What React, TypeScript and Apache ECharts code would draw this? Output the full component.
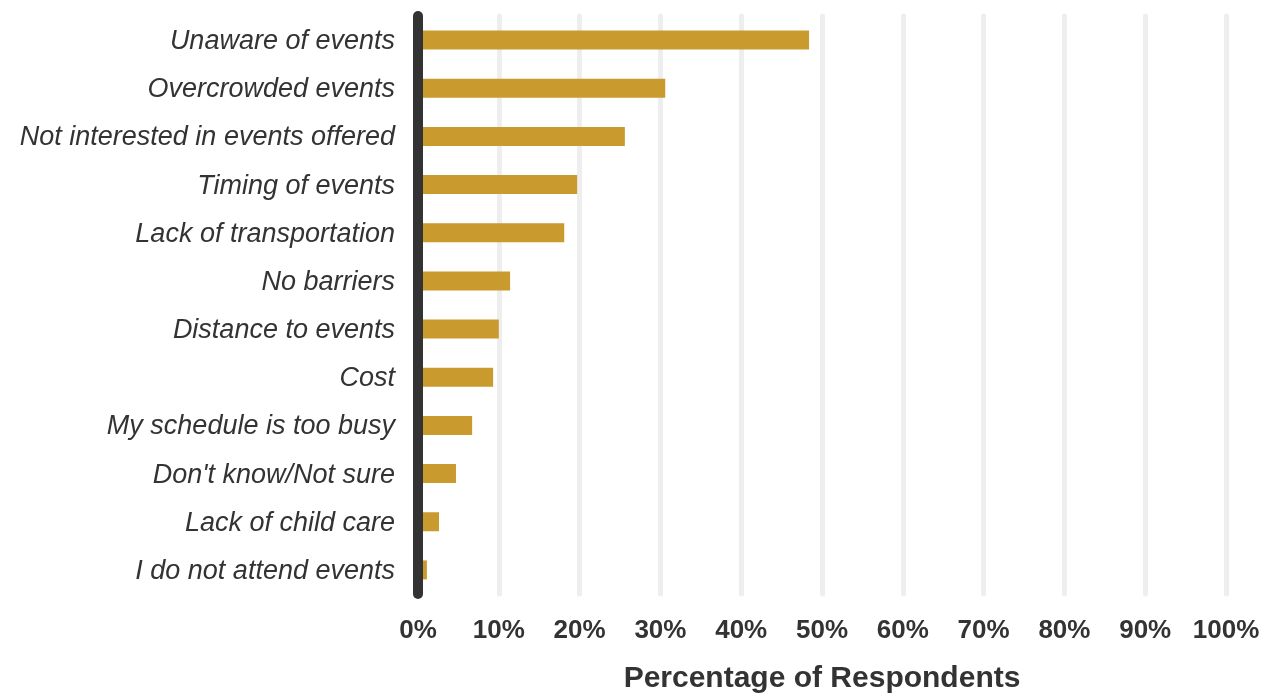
import React, { useEffect, useRef } from "react";
import * as echarts from "echarts";

const categories = [
  "Unaware of events",
  "Overcrowded events",
  "Not interested in events offered",
  "Timing of events",
  "Lack of transportation",
  "No barriers",
  "Distance to events",
  "Cost",
  "My schedule is too busy",
  "Don't know/Not sure",
  "Lack of child care",
  "I do not attend events",
];
const values = [48.4, 30.6, 25.6, 19.7, 18.1, 11.4, 10.0, 9.3, 6.7, 4.7, 2.6, 1.1];
const xTicks = [0, 10, 20, 30, 40, 50, 60, 70, 80, 90, 100];
const axisTitle = "Percentage of Respondents";

export default function App() {
  const ref = useRef<HTMLDivElement>(null);
  useEffect(() => {
    if (!ref.current) return;
    const chart = echarts.init(ref.current, undefined, { renderer: "svg" });
    chart.setOption({
      animation: false,
      grid: { left: 418, right: 38, top: 16, bottom: 105, containLabel: false },
      xAxis: {
        type: "value",
        min: xTicks[0],
        max: xTicks[xTicks.length - 1],
        interval: 10,
        name: axisTitle,
        nameLocation: "middle",
        nameGap: 67,
        nameTextStyle: {
          fontFamily: "'Liberation Sans', Arial, sans-serif",
          fontWeight: "bold",
          fontSize: 30,
          color: "#333333",
        },
        axisLine: { show: false },
        axisTick: { show: false },
        axisLabel: {
          formatter: (v: number) => v + "%",
          fontFamily: "'Liberation Sans', Arial, sans-serif",
          fontWeight: "bold",
          fontSize: 26,
          color: "#333333",
          margin: 22,
        },
        splitLine: {
          show: true,
          lineStyle: { color: "#eeeeee", width: 5, cap: "round" },
        },
      },
      yAxis: {
        type: "category",
        data: categories,
        inverse: true,
        z: 10,
        axisTick: { show: false },
        axisLine: {
          show: true,
          lineStyle: { color: "#333333", width: 10, cap: "round" },
        },
        axisLabel: {
          fontFamily: "'Liberation Sans', Arial, sans-serif",
          fontStyle: "italic",
          fontSize: 27,
          color: "#333333",
          margin: 23,
        },
        splitLine: { show: false },
      },
      series: [
        {
          type: "bar",
          data: values,
          barWidth: 19,
          itemStyle: { color: "#C99A2E" },
        },
      ],
    });
    return () => chart.dispose();
  }, []);
  return (
    <div
      ref={ref}
      style={{ position: "fixed", left: 0, top: 0, width: 1264, height: 699 }}
    />
  );
}
